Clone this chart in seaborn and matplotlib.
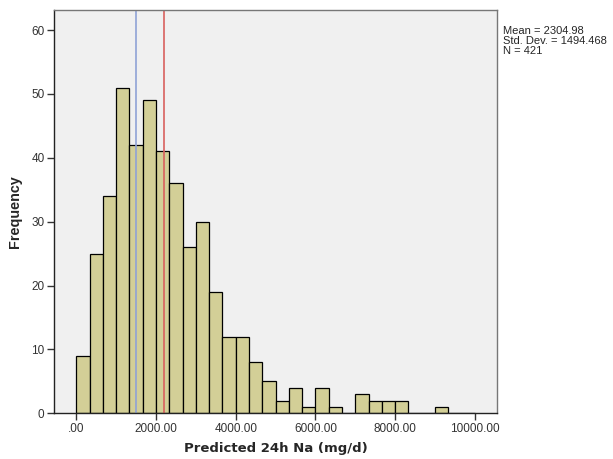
import numpy as np
import pandas as pd
import seaborn as sns
import matplotlib.pyplot as plt

# histogram counts, bins of width 333.33 from 0 to 10000
counts = [9, 25, 34, 51, 42, 49, 41, 36, 26, 30, 19, 12, 12, 8, 5,
          2, 4, 1, 4, 1, 0, 3, 2, 2, 2, 0, 0, 1, 0, 0]
bin_edges = np.linspace(0, 10000, 31)
bin_mids = (bin_edges[:-1] + bin_edges[1:]) / 2
median_line = 1500
mean_line = 2210
xticks = [0, 2000, 4000, 6000, 8000, 10000]
xtick_labels = ['.00', '2000.00', '4000.00', '6000.00', '8000.00', '10000.00']
yticks = [0, 10, 20, 30, 40, 50, 60]
stats_text = 'Mean = 2304.98\nStd. Dev. = 1494.468\nN = 421'

df = pd.DataFrame({'na': bin_mids, 'n': counts})

sns.set_style('white')
plt.rcParams['font.family'] = ['Liberation Sans', 'DejaVu Sans']

fig = plt.figure(figsize=(6.13, 4.59), dpi=100)
ax = fig.add_axes([0.0886, 0.0996, 0.7224, 0.8794])
ax.set_facecolor('#f0f0f0')

sns.histplot(data=df, x='na', weights='n', bins=list(bin_edges), ax=ax,
             color='#d3cf97', edgecolor='black', linewidth=0.9, alpha=1)
ax.axvline(median_line, color='#8fa2d6', lw=1.2)
ax.axvline(mean_line, color='#d9605e', lw=1.2)

ax.set_xlim(-552, 10560)
ax.set_ylim(0, 63.2)
ax.set_xticks(xticks)
ax.set_xticklabels(xtick_labels)
ax.set_yticks(yticks)
ax.tick_params(axis='both', direction='out', length=5, width=1, color='#333333',
               labelsize=8.5, labelcolor='#333333', bottom=True, left=True, pad=2)
for s in ax.spines.values():
    s.set_color('#777777')
    s.set_linewidth(1)
ax.spines['bottom'].set_color('#222222')
ax.spines['left'].set_color('#222222')

ax.set_xlabel('Predicted 24h Na (mg/d)', fontsize=9.5, fontweight='bold',
              family='DejaVu Sans', labelpad=5)
ax.set_ylabel('Frequency', fontsize=10.4, fontweight='bold', labelpad=7)

fig.text(0.821, 0.944, stats_text, fontsize=8, va='top', ha='left', linespacing=1.0)

fig.savefig('out.png', dpi=100)
